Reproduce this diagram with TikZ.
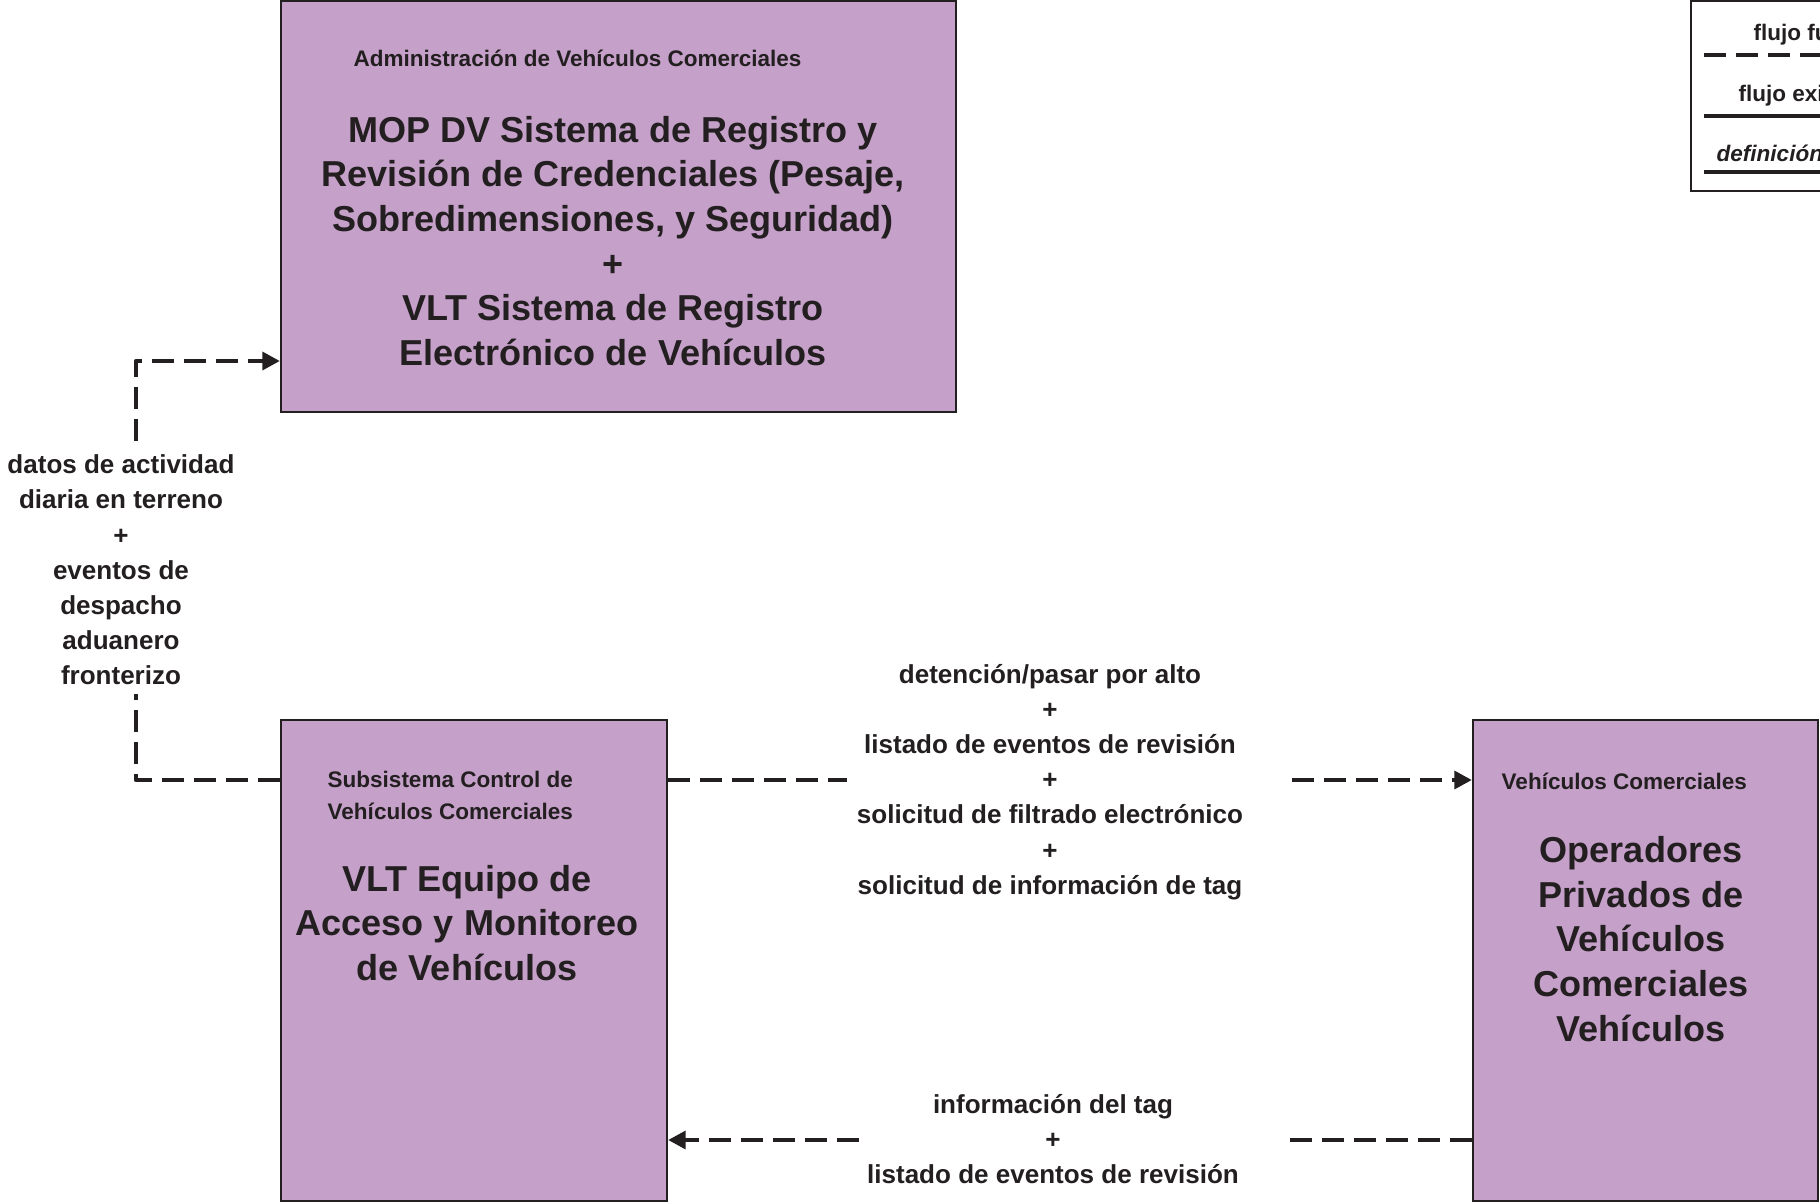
\documentclass[tikz,border=0pt]{standalone}
\usepackage{fontspec}
\setmainfont{Liberation Sans}
\usetikzlibrary{arrows.meta,fit}
\definecolor{boxfill}{RGB}{197,160,201}
\definecolor{ink}{RGB}{35,31,32}
\begin{document}
\begin{tikzpicture}[x=0.01cm,y=-0.01cm,
  box/.style={draw=ink, line width=0.6pt, fill=boxfill, inner sep=0pt},
  big/.style={text=ink, font=\fontsize{10.25}{12.7}\selectfont\bfseries, align=center},
  sub/.style={text=ink, font=\fontsize{6.4}{9.1}\selectfont\bfseries, align=left, anchor=west, inner sep=0pt},
  lbl/.style={text=ink, font=\fontsize{7.4}{10}\selectfont\bfseries, align=center},
  leg/.style={text=ink, font=\fontsize{6.4}{8}\selectfont\bfseries, anchor=west, inner sep=0pt},
  flow/.style={draw=ink, line width=1.3pt, dash pattern=on 6.3pt off 2.8pt},
  solidflow/.style={draw=ink, line width=1.3pt},
  arr/.style={-{Triangle[length=5pt,width=5pt]}}]
\clip (0,0) rectangle (1820,1203);
\fill[white] (0,0) rectangle (1820,1203);

% boxes
\node[box, fit={(281,1) (956,412)}] (admin) {};
\node[sub] (adminsub) at (353,58) {Administración de Vehículos Comerciales};
\node[big] (admintxt) at (613,241) {MOP DV Sistema de Registro y\\Revisión de Credenciales (Pesaje,\\Sobredimensiones, y Seguridad)\\+\\VLT Sistema de Registro\\Electrónico de Vehículos};

\node[box, fit={(281,720) (667,1201)}] (lbox) {};
\node[sub] (lboxsub) at (327,795) {Subsistema Control de\\Vehículos Comerciales};
\node[big] (lboxtxt) at (467,923) {VLT Equipo de\\Acceso y Monitoreo\\de Vehículos};

\node[box, fit={(1473,720) (1818,1201)}] (rbox) {};
\node[sub] (rboxsub) at (1501,781) {Vehículos Comerciales};
\node[big] (rboxtxt) at (1641,939) {Operadores\\Privados de\\Vehículos\\Comerciales\\Vehículos};

% labels
\node[lbl] (lleft) at (121,570) {datos de actividad\\diaria en terreno\\+\\eventos de\\despacho\\aduanero\\fronterizo};
\node[lbl] (lmid) at (1050,782) {detención/pasar por alto\\+\\listado de eventos de revisión\\+\\solicitud de filtrado electrónico\\+\\solicitud de información de tag};
\node[lbl] (lbot) at (1053,1139) {información del tag\\+\\listado de eventos de revisión};

% connectors
\coordinate (c0) at (136,780);
\coordinate (c1) at (136,694);
\coordinate (c2) at (136,441);
\coordinate (c3) at (136,361);
\draw[flow, line join=round] (lbox.west |- c0) -- (c0) -- (c1);
\draw[flow, arr, line join=round] (c2) -- (c3) -- (admin.west |- c3);

\coordinate (m1) at (847,780);
\coordinate (m2) at (1292,780);
\draw[flow] (lbox.east |- m1) -- (m1);
\draw[flow, arr] (m2) -- (rbox.west |- m2);

\coordinate (b1) at (1285,1140);
\coordinate (b2) at (859,1140);
\draw[flow] (rbox.west |- b1) -- (b1);
\draw[flow, arr] (b2) -- (lbox.east |- b2);

% legend
\draw[ink, line width=0.7pt] (1691,1) rectangle (1950,191);
\node[leg] (lg1) at (1753,35) {flujo futuro};
\draw[flow] (1704,55) -- (1950,55);
\node[leg] (lg2) at (1738,96) {flujo existente};
\draw[solidflow] (1704,116) -- (1950,116);
\node[leg] (lg3) at (1716,153) {\itshape definición de usuario};
\draw[solidflow] (1704,172) -- (1950,172);
\end{tikzpicture}
\end{document}
